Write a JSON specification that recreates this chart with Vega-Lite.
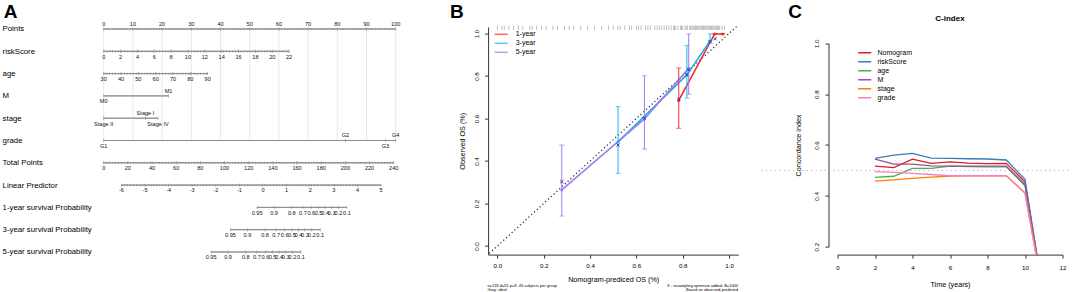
{
 "$schema": "https://vega.github.io/schema/vega-lite/v6.json",
 "padding": {"left": 1.7, "top": 2.6, "right": 0, "bottom": 0},
 "background": "white",
 "bounds": "flush",
 "spacing": 89.4,
 "resolve": {"scale": {"color": "independent"}, "legend": {"color": "independent"}},
 "config": {
  "font": "Liberation Sans",
  "view": {"stroke": null},
  "axis": {"labelFont": "Liberation Sans", "titleFont": "Liberation Sans", "labelFontSize": 6.2, "titleFontSize": 7.2, "titleFontWeight": "normal", "labelColor": "#000", "titleColor": "#000", "domainColor": "#333", "tickColor": "#333", "tickSize": 3.5, "grid": false, "labelFlush": false, "labelOverlap": false},
  "legend": {"labelFont": "Liberation Sans", "labelColor": "#000"}
 },
 "datasets": {
  "rowsA": [
   {"row": "Points", "lo": 0, "hi": 100},
   {"row": "riskScore", "lo": 0, "hi": 63.5},
   {"row": "age", "lo": 0, "hi": 35.6},
   {"row": "M", "lo": 0, "hi": 22.2},
   {"row": "stage", "lo": 0, "hi": 18.6},
   {"row": "grade", "lo": 0, "hi": 100},
   {"row": "Total Points", "lo": 0, "hi": 99.31},
   {"row": "Linear Predictor", "lo": 6.06, "hi": 95.0},
   {"row": "1-year survival Probability", "lo": 52.53, "hi": 83.29},
   {"row": "3-year survival Probability", "lo": 43.39, "hi": 74.15},
   {"row": "5-year survival Probability", "lo": 36.78, "hi": 67.54}
  ],
  "ticksA": [
   {"row": "Points", "label": "0", "pts": 0}, {"row": "Points", "label": "10", "pts": 10}, {"row": "Points", "label": "20", "pts": 20}, {"row": "Points", "label": "30", "pts": 30}, {"row": "Points", "label": "40", "pts": 40}, {"row": "Points", "label": "50", "pts": 50}, {"row": "Points", "label": "60", "pts": 60}, {"row": "Points", "label": "70", "pts": 70}, {"row": "Points", "label": "80", "pts": 80}, {"row": "Points", "label": "90", "pts": 90}, {"row": "Points", "label": "100", "pts": 100},
   {"row": "riskScore", "label": "0", "pts": 0}, {"row": "riskScore", "label": "2", "pts": 5.77}, {"row": "riskScore", "label": "4", "pts": 11.55}, {"row": "riskScore", "label": "6", "pts": 17.32}, {"row": "riskScore", "label": "8", "pts": 23.09}, {"row": "riskScore", "label": "10", "pts": 28.86}, {"row": "riskScore", "label": "12", "pts": 34.64}, {"row": "riskScore", "label": "14", "pts": 40.41}, {"row": "riskScore", "label": "16", "pts": 46.18}, {"row": "riskScore", "label": "18", "pts": 51.95}, {"row": "riskScore", "label": "20", "pts": 57.73}, {"row": "riskScore", "label": "22", "pts": 63.5},
   {"row": "age", "label": "30", "pts": 0}, {"row": "age", "label": "40", "pts": 5.93}, {"row": "age", "label": "50", "pts": 11.87}, {"row": "age", "label": "60", "pts": 17.8}, {"row": "age", "label": "70", "pts": 23.73}, {"row": "age", "label": "80", "pts": 29.67}, {"row": "age", "label": "90", "pts": 35.6},
   {"row": "M", "label": "M0", "pts": 0}, {"row": "M", "label": "M1", "pts": 22.2},
   {"row": "stage", "label": "Stage II", "pts": 0}, {"row": "stage", "label": "Stage I", "pts": 14.3}, {"row": "stage", "label": "Stage IV", "pts": 18.6},
   {"row": "grade", "label": "G1", "pts": 0}, {"row": "grade", "label": "G2", "pts": 82.8}, {"row": "grade", "label": "G3", "pts": 96.5}, {"row": "grade", "label": "G4", "pts": 100},
   {"row": "Total Points", "label": "0", "pts": 0}, {"row": "Total Points", "label": "20", "pts": 8.28}, {"row": "Total Points", "label": "40", "pts": 16.55}, {"row": "Total Points", "label": "60", "pts": 24.83}, {"row": "Total Points", "label": "80", "pts": 33.1}, {"row": "Total Points", "label": "100", "pts": 41.38}, {"row": "Total Points", "label": "120", "pts": 49.66}, {"row": "Total Points", "label": "140", "pts": 57.93}, {"row": "Total Points", "label": "160", "pts": 66.21}, {"row": "Total Points", "label": "180", "pts": 74.48}, {"row": "Total Points", "label": "200", "pts": 82.76}, {"row": "Total Points", "label": "220", "pts": 91.04}, {"row": "Total Points", "label": "240", "pts": 99.31},
   {"row": "Linear Predictor", "label": "-6", "pts": 6.06}, {"row": "Linear Predictor", "label": "-5", "pts": 14.15}, {"row": "Linear Predictor", "label": "-4", "pts": 22.23}, {"row": "Linear Predictor", "label": "-3", "pts": 30.32}, {"row": "Linear Predictor", "label": "-2", "pts": 38.4}, {"row": "Linear Predictor", "label": "-1", "pts": 46.49}, {"row": "Linear Predictor", "label": "0", "pts": 54.57}, {"row": "Linear Predictor", "label": "1", "pts": 62.66}, {"row": "Linear Predictor", "label": "2", "pts": 70.74}, {"row": "Linear Predictor", "label": "3", "pts": 78.83}, {"row": "Linear Predictor", "label": "4", "pts": 86.91}, {"row": "Linear Predictor", "label": "5", "pts": 95.0},
   {"row": "1-year survival Probability", "label": "0.95", "pts": 52.53}, {"row": "1-year survival Probability", "label": "0.9", "pts": 58.35}, {"row": "1-year survival Probability", "label": "0.8", "pts": 64.41}, {"row": "1-year survival Probability", "label": "0.7", "pts": 68.21}, {"row": "1-year survival Probability", "label": "0.6", "pts": 71.11}, {"row": "1-year survival Probability", "label": "0.5", "pts": 73.58}, {"row": "1-year survival Probability", "label": "0.4", "pts": 75.84}, {"row": "1-year survival Probability", "label": "0.3", "pts": 78.05}, {"row": "1-year survival Probability", "label": "0.2", "pts": 80.39}, {"row": "1-year survival Probability", "label": "0.1", "pts": 83.29},
   {"row": "3-year survival Probability", "label": "0.95", "pts": 43.39}, {"row": "3-year survival Probability", "label": "0.9", "pts": 49.21}, {"row": "3-year survival Probability", "label": "0.8", "pts": 55.27}, {"row": "3-year survival Probability", "label": "0.7", "pts": 59.07}, {"row": "3-year survival Probability", "label": "0.6", "pts": 61.97}, {"row": "3-year survival Probability", "label": "0.5", "pts": 64.44}, {"row": "3-year survival Probability", "label": "0.4", "pts": 66.7}, {"row": "3-year survival Probability", "label": "0.3", "pts": 68.91}, {"row": "3-year survival Probability", "label": "0.2", "pts": 71.25}, {"row": "3-year survival Probability", "label": "0.1", "pts": 74.15},
   {"row": "5-year survival Probability", "label": "0.95", "pts": 36.78}, {"row": "5-year survival Probability", "label": "0.9", "pts": 42.6}, {"row": "5-year survival Probability", "label": "0.8", "pts": 48.66}, {"row": "5-year survival Probability", "label": "0.7", "pts": 52.46}, {"row": "5-year survival Probability", "label": "0.6", "pts": 55.36}, {"row": "5-year survival Probability", "label": "0.5", "pts": 57.83}, {"row": "5-year survival Probability", "label": "0.4", "pts": 60.09}, {"row": "5-year survival Probability", "label": "0.3", "pts": 62.3}, {"row": "5-year survival Probability", "label": "0.2", "pts": 64.64}, {"row": "5-year survival Probability", "label": "0.1", "pts": 67.54}
  ],
  "rug": [
   {"x": 0.0}, {"x": 0.02}, {"x": 0.03}, {"x": 0.05}, {"x": 0.07}, {"x": 0.09}, {"x": 0.11}, {"x": 0.14}, {"x": 0.15}, {"x": 0.17}, {"x": 0.19}, {"x": 0.21}, {"x": 0.24}, {"x": 0.26}, {"x": 0.29}, {"x": 0.31}, {"x": 0.33}, {"x": 0.36}, {"x": 0.39}, {"x": 0.42}, {"x": 0.45}, {"x": 0.48}, {"x": 0.5}, {"x": 0.52}, {"x": 0.53}, {"x": 0.55}, {"x": 0.57}, {"x": 0.58}, {"x": 0.6}, {"x": 0.61}, {"x": 0.62}, {"x": 0.64}, {"x": 0.65}, {"x": 0.66}, {"x": 0.68}, {"x": 0.69}, {"x": 0.7}, {"x": 0.71}, {"x": 0.72}, {"x": 0.73}, {"x": 0.74}, {"x": 0.75}, {"x": 0.76}, {"x": 0.765}, {"x": 0.77}, {"x": 0.78}, {"x": 0.79}, {"x": 0.795}, {"x": 0.8}, {"x": 0.81}, {"x": 0.815}, {"x": 0.82}, {"x": 0.83}, {"x": 0.835}, {"x": 0.84}, {"x": 0.845}, {"x": 0.85}, {"x": 0.855}, {"x": 0.86}, {"x": 0.865}, {"x": 0.87}, {"x": 0.875}, {"x": 0.88}, {"x": 0.885}, {"x": 0.89}, {"x": 0.895}, {"x": 0.9}, {"x": 0.905}, {"x": 0.91}, {"x": 0.915}, {"x": 0.92}, {"x": 0.925}, {"x": 0.93}, {"x": 0.935}, {"x": 0.94}, {"x": 0.945}, {"x": 0.95}, {"x": 0.955}, {"x": 0.96}, {"x": 0.97}, {"x": 0.98}
  ],
  "diag": [{"x": -0.035, "y": -0.035}, {"x": 1.037, "y": 1.037}],
  "calib": [
   {"series": "1-year", "x": 0.783, "y": 0.685, "lo": 0.554, "hi": 0.838},
   {"series": "1-year", "x": 0.938, "y": 0.998, "lo": 0.998, "hi": 0.998},
   {"series": "1-year", "x": 0.973, "y": 0.998, "lo": 0.998, "hi": 0.998},
   {"series": "3-year", "x": 0.521, "y": 0.49, "lo": 0.342, "hi": 0.656},
   {"series": "3-year", "x": 0.818, "y": 0.805, "lo": 0.696, "hi": 0.944},
   {"series": "3-year", "x": 0.918, "y": 0.965, "lo": 0.955, "hi": 0.998},
   {"series": "5-year", "x": 0.278, "y": 0.264, "lo": 0.141, "hi": 0.475},
   {"series": "5-year", "x": 0.635, "y": 0.598, "lo": 0.456, "hi": 0.801},
   {"series": "5-year", "x": 0.826, "y": 0.836, "lo": 0.714, "hi": 0.998}
  ],
  "bias": [
   {"x": 0.278, "y": 0.303}, {"x": 0.521, "y": 0.475}, {"x": 0.635, "y": 0.602}, {"x": 0.783, "y": 0.69}, {"x": 0.818, "y": 0.806}, {"x": 0.826, "y": 0.83}, {"x": 0.918, "y": 0.962}, {"x": 0.94, "y": 0.975}
  ],
  "cindex": [
   {"series": "Nomogram", "t": 2, "c": 0.517}, {"series": "Nomogram", "t": 3, "c": 0.511}, {"series": "Nomogram", "t": 4, "c": 0.544}, {"series": "Nomogram", "t": 5, "c": 0.528}, {"series": "Nomogram", "t": 6, "c": 0.534}, {"series": "Nomogram", "t": 7, "c": 0.529}, {"series": "Nomogram", "t": 8, "c": 0.527}, {"series": "Nomogram", "t": 9, "c": 0.528}, {"series": "Nomogram", "t": 10, "c": 0.455}, {"series": "Nomogram", "t": 11, "c": 0},
   {"series": "riskScore", "t": 2, "c": 0.547}, {"series": "riskScore", "t": 3, "c": 0.56}, {"series": "riskScore", "t": 4, "c": 0.567}, {"series": "riskScore", "t": 5, "c": 0.548}, {"series": "riskScore", "t": 6, "c": 0.547}, {"series": "riskScore", "t": 7, "c": 0.546}, {"series": "riskScore", "t": 8, "c": 0.545}, {"series": "riskScore", "t": 9, "c": 0.541}, {"series": "riskScore", "t": 10, "c": 0.465}, {"series": "riskScore", "t": 11, "c": 0},
   {"series": "age", "t": 2, "c": 0.473}, {"series": "age", "t": 3, "c": 0.477}, {"series": "age", "t": 4, "c": 0.508}, {"series": "age", "t": 5, "c": 0.508}, {"series": "age", "t": 6, "c": 0.517}, {"series": "age", "t": 7, "c": 0.515}, {"series": "age", "t": 8, "c": 0.514}, {"series": "age", "t": 9, "c": 0.514}, {"series": "age", "t": 10, "c": 0.44}, {"series": "age", "t": 11, "c": 0},
   {"series": "M", "t": 2, "c": 0.544}, {"series": "M", "t": 3, "c": 0.525}, {"series": "M", "t": 4, "c": 0.525}, {"series": "M", "t": 5, "c": 0.518}, {"series": "M", "t": 6, "c": 0.517}, {"series": "M", "t": 7, "c": 0.517}, {"series": "M", "t": 8, "c": 0.517}, {"series": "M", "t": 9, "c": 0.517}, {"series": "M", "t": 10, "c": 0.445}, {"series": "M", "t": 11, "c": 0},
   {"series": "stage", "t": 2, "c": 0.458}, {"series": "stage", "t": 3, "c": 0.463}, {"series": "stage", "t": 4, "c": 0.469}, {"series": "stage", "t": 5, "c": 0.474}, {"series": "stage", "t": 6, "c": 0.478}, {"series": "stage", "t": 7, "c": 0.479}, {"series": "stage", "t": 8, "c": 0.479}, {"series": "stage", "t": 9, "c": 0.479}, {"series": "stage", "t": 10, "c": 0.412}, {"series": "stage", "t": 11, "c": 0},
   {"series": "grade", "t": 2, "c": 0.495}, {"series": "grade", "t": 3, "c": 0.492}, {"series": "grade", "t": 4, "c": 0.488}, {"series": "grade", "t": 5, "c": 0.484}, {"series": "grade", "t": 6, "c": 0.479}, {"series": "grade", "t": 7, "c": 0.479}, {"series": "grade", "t": 8, "c": 0.479}, {"series": "grade", "t": 9, "c": 0.479}, {"series": "grade", "t": 10, "c": 0.41}, {"series": "grade", "t": 11, "c": 0}
  ]
 },
 "hconcat": [
  {
   "width": 294.7, "height": 230,
   "layer": [
    {"data": {"name": "rowsA"},
     "mark": {"type": "rule", "color": "#8c8c8c", "strokeWidth": 0.9},
     "encoding": {
      "x": {"field": "lo", "type": "quantitative", "scale": {"domain": [0, 100], "range": [0, 292], "nice": false, "zero": false}, "axis": null},
      "x2": {"field": "hi"},
      "y": {"field": "row", "type": "ordinal", "scale": {"type": "point", "padding": 0, "domain": ["Points", "riskScore", "age", "M", "stage", "grade", "Total Points", "Linear Predictor", "1-year survival Probability", "3-year survival Probability", "5-year survival Probability"], "range": [4.4, 227.4]},
       "axis": {"title": null, "domain": false, "ticks": false, "tickSize": 0, "labelAlign": "left", "labelBaseline": "middle", "labelPadding": 101.6, "labelFontSize": 7.8, "labelColor": "#000", "labelLimit": 0}}}},
    {"data": {"name": "ticksA"}, "transform": [{"filter": "datum.row === 'Points'"}],
     "mark": {"type": "rule", "color": "#e2e2e2", "strokeWidth": 0.8},
     "encoding": {
      "x": {"field": "pts", "type": "quantitative", "scale": {"domain": [0, 100], "range": [0, 292], "nice": false, "zero": false}, "axis": null},
      "y": {"datum": "Points", "type": "ordinal", "scale": {"type": "point", "padding": 0, "domain": ["Points", "riskScore", "age", "M", "stage", "grade", "Total Points", "Linear Predictor", "1-year survival Probability", "3-year survival Probability", "5-year survival Probability"], "range": [4.4, 227.4]},
       "axis": {"title": null, "domain": false, "ticks": false, "tickSize": 0, "labelAlign": "left", "labelBaseline": "middle", "labelPadding": 101.6, "labelFontSize": 7.8, "labelColor": "#000", "labelLimit": 0}},
      "y2": {"datum": "grade"}}},
    {"data": {"name": "rowsA"},
     "mark": {"type": "rule", "color": "#8c8c8c", "strokeWidth": 0.9},
     "encoding": {
      "x": {"field": "lo", "type": "quantitative", "scale": {"domain": [0, 100], "range": [0, 292], "nice": false, "zero": false}, "axis": null},
      "x2": {"field": "hi"},
      "y": {"field": "row", "type": "ordinal", "scale": {"type": "point", "padding": 0, "domain": ["Points", "riskScore", "age", "M", "stage", "grade", "Total Points", "Linear Predictor", "1-year survival Probability", "3-year survival Probability", "5-year survival Probability"], "range": [4.4, 227.4]},
       "axis": {"title": null, "domain": false, "ticks": false, "tickSize": 0, "labelAlign": "left", "labelBaseline": "middle", "labelPadding": 101.6, "labelFontSize": 7.8, "labelColor": "#000", "labelLimit": 0}}}},
    {"data": {"name": "rowsA"}, "transform": [{"filter": {"field": "row", "oneOf": ["Points", "riskScore", "age", "Total Points", "Linear Predictor"]}}],
     "mark": {"type": "rule", "color": "#8c8c8c", "strokeWidth": 2.2, "strokeDash": [0.6, 2.32]},
     "encoding": {
      "x": {"field": "lo", "type": "quantitative", "scale": {"domain": [0, 100], "range": [0, 292], "nice": false, "zero": false}, "axis": null},
      "x2": {"field": "hi"},
      "y": {"field": "row", "type": "ordinal", "scale": {"type": "point", "padding": 0, "domain": ["Points", "riskScore", "age", "M", "stage", "grade", "Total Points", "Linear Predictor", "1-year survival Probability", "3-year survival Probability", "5-year survival Probability"], "range": [4.4, 227.4]},
       "axis": {"title": null, "domain": false, "ticks": false, "tickSize": 0, "labelAlign": "left", "labelBaseline": "middle", "labelPadding": 101.6, "labelFontSize": 7.8, "labelColor": "#000", "labelLimit": 0}}}},
    {"data": {"name": "ticksA"},
     "mark": {"type": "tick", "orient": "vertical", "color": "#8c8c8c", "size": 3.4, "thickness": 0.8},
     "encoding": {
      "x": {"field": "pts", "type": "quantitative", "scale": {"domain": [0, 100], "range": [0, 292], "nice": false, "zero": false}, "axis": null},
      "y": {"field": "row", "type": "ordinal", "scale": {"type": "point", "padding": 0, "domain": ["Points", "riskScore", "age", "M", "stage", "grade", "Total Points", "Linear Predictor", "1-year survival Probability", "3-year survival Probability", "5-year survival Probability"], "range": [4.4, 227.4]},
       "axis": {"title": null, "domain": false, "ticks": false, "tickSize": 0, "labelAlign": "left", "labelBaseline": "middle", "labelPadding": 101.6, "labelFontSize": 7.8, "labelColor": "#000", "labelLimit": 0}}}},
    {"data": {"name": "ticksA"}, "transform": [{"filter": "datum.row === 'Points' || indexof(['M1','Stage I','G2','G4'], datum.label) >= 0"}],
     "mark": {"type": "text", "fontSize": 5.6, "dy": -5.2, "baseline": "middle", "color": "#111"},
     "encoding": {
      "x": {"field": "pts", "type": "quantitative", "scale": {"domain": [0, 100], "range": [0, 292], "nice": false, "zero": false}, "axis": null},
      "y": {"field": "row", "type": "ordinal", "scale": {"type": "point", "padding": 0, "domain": ["Points", "riskScore", "age", "M", "stage", "grade", "Total Points", "Linear Predictor", "1-year survival Probability", "3-year survival Probability", "5-year survival Probability"], "range": [4.4, 227.4]},
       "axis": {"title": null, "domain": false, "ticks": false, "tickSize": 0, "labelAlign": "left", "labelBaseline": "middle", "labelPadding": 101.6, "labelFontSize": 7.8, "labelColor": "#000", "labelLimit": 0}},
      "text": {"field": "label"}}},
    {"data": {"name": "ticksA"}, "transform": [{"filter": "!(datum.row === 'Points' || indexof(['M1','Stage I','G2','G4'], datum.label) >= 0)"}],
     "mark": {"type": "text", "fontSize": 5.6, "dy": 5.4, "baseline": "middle", "color": "#111"},
     "encoding": {
      "x": {"field": "pts", "type": "quantitative", "scale": {"domain": [0, 100], "range": [0, 292], "nice": false, "zero": false}, "axis": null},
      "y": {"field": "row", "type": "ordinal", "scale": {"type": "point", "padding": 0, "domain": ["Points", "riskScore", "age", "M", "stage", "grade", "Total Points", "Linear Predictor", "1-year survival Probability", "3-year survival Probability", "5-year survival Probability"], "range": [4.4, 227.4]},
       "axis": {"title": null, "domain": false, "ticks": false, "tickSize": 0, "labelAlign": "left", "labelBaseline": "middle", "labelPadding": 101.6, "labelFontSize": 7.8, "labelColor": "#000", "labelLimit": 0}},
      "text": {"field": "label"}}},
    {"data": {"values": [{"letter": "A"}]},
     "mark": {"type": "text", "fontSize": 19, "fontWeight": "bold", "align": "left", "baseline": "alphabetic", "dy": -11.4, "color": "#000"},
     "encoding": {
      "x": {"datum": -34.25, "type": "quantitative", "scale": {"domain": [0, 100], "range": [0, 292], "nice": false, "zero": false}, "axis": null},
      "y": {"datum": "Points", "type": "ordinal", "scale": {"type": "point", "padding": 0, "domain": ["Points", "riskScore", "age", "M", "stage", "grade", "Total Points", "Linear Predictor", "1-year survival Probability", "3-year survival Probability", "5-year survival Probability"], "range": [4.4, 227.4]},
       "axis": {"title": null, "domain": false, "ticks": false, "tickSize": 0, "labelAlign": "left", "labelBaseline": "middle", "labelPadding": 101.6, "labelFontSize": 7.8, "labelColor": "#000", "labelLimit": 0}},
      "text": {"field": "letter"}}}
   ]
  },
  {
   "width": 250.2, "height": 230,
   "layer": [
    {"data": {"name": "diag"},
     "mark": {"type": "line", "color": "#222", "strokeWidth": 1.2, "strokeDash": [1.2, 2.6]},
     "encoding": {
      "x": {"field": "x", "type": "quantitative", "scale": {"domain": [-0.04, 1.04], "range": [0, 250.2], "nice": false, "zero": false}, "axis": {"values": [0, 0.2, 0.4, 0.6, 0.8, 1], "format": ".1f", "title": "Nomogram-prediced OS (%)", "labelPadding": 4.5, "titleY": 24.7, "titleBaseline": "middle"}},
      "y": {"field": "y", "type": "quantitative", "scale": {"domain": [-0.0405, 1.0306], "range": [230, 2.4], "nice": false, "zero": false}, "axis": {"values": [0, 0.2, 0.4, 0.6, 0.8, 1], "format": ".1f", "title": "Observed OS (%)", "labelAngle": -90, "labelAlign": "center", "labelBaseline": "bottom", "labelPadding": 5.2, "titleX": -25.7, "titleAngle": -90, "titleBaseline": "middle"}}}},
    {"data": {"name": "rug"},
     "mark": {"type": "tick", "orient": "vertical", "size": 4.7, "thickness": 0.8, "color": "#555", "opacity": 0.45},
     "encoding": {
      "x": {"field": "x", "type": "quantitative", "scale": {"domain": [-0.04, 1.04], "range": [0, 250.2], "nice": false, "zero": false}, "axis": {"values": [0, 0.2, 0.4, 0.6, 0.8, 1], "format": ".1f", "title": "Nomogram-prediced OS (%)", "labelPadding": 4.5, "titleY": 24.7, "titleBaseline": "middle"}},
      "y": {"datum": 1.027, "type": "quantitative", "scale": {"domain": [-0.0405, 1.0306], "range": [230, 2.4], "nice": false, "zero": false}, "axis": {"values": [0, 0.2, 0.4, 0.6, 0.8, 1], "format": ".1f", "title": "Observed OS (%)", "labelAngle": -90, "labelAlign": "center", "labelBaseline": "bottom", "labelPadding": 5.2, "titleX": -25.7, "titleAngle": -90, "titleBaseline": "middle"}}}},
    {"data": {"name": "calib"},
     "mark": {"type": "line", "strokeWidth": 1.6},
     "encoding": {
      "x": {"field": "x", "type": "quantitative", "scale": {"domain": [-0.04, 1.04], "range": [0, 250.2], "nice": false, "zero": false}, "axis": {"values": [0, 0.2, 0.4, 0.6, 0.8, 1], "format": ".1f", "title": "Nomogram-prediced OS (%)", "labelPadding": 4.5, "titleY": 24.7, "titleBaseline": "middle"}},
      "y": {"field": "y", "type": "quantitative", "scale": {"domain": [-0.0405, 1.0306], "range": [230, 2.4], "nice": false, "zero": false}, "axis": {"values": [0, 0.2, 0.4, 0.6, 0.8, 1], "format": ".1f", "title": "Observed OS (%)", "labelAngle": -90, "labelAlign": "center", "labelBaseline": "bottom", "labelPadding": 5.2, "titleX": -25.7, "titleAngle": -90, "titleBaseline": "middle"}},
      "color": {"field": "series", "type": "nominal", "scale": {"domain": ["1-year", "3-year", "5-year"], "range": ["#F22C2C", "#21B1EE", "#A07CF0"]},
       "legend": {"orient": "none", "legendX": 5.6, "legendY": 5.2, "title": null, "symbolType": "stroke", "symbolSize": 169, "symbolStrokeWidth": 1.6, "labelFontSize": 7, "labelOffset": 7, "clipHeight": 9, "rowPadding": 0, "padding": 0}}}},
    {"data": {"name": "calib"},
     "mark": {"type": "rule", "strokeWidth": 1},
     "encoding": {
      "x": {"field": "x", "type": "quantitative", "scale": {"domain": [-0.04, 1.04], "range": [0, 250.2], "nice": false, "zero": false}, "axis": {"values": [0, 0.2, 0.4, 0.6, 0.8, 1], "format": ".1f", "title": "Nomogram-prediced OS (%)", "labelPadding": 4.5, "titleY": 24.7, "titleBaseline": "middle"}},
      "y": {"field": "lo", "type": "quantitative", "scale": {"domain": [-0.0405, 1.0306], "range": [230, 2.4], "nice": false, "zero": false}, "axis": {"values": [0, 0.2, 0.4, 0.6, 0.8, 1], "format": ".1f", "title": "Observed OS (%)", "labelAngle": -90, "labelAlign": "center", "labelBaseline": "bottom", "labelPadding": 5.2, "titleX": -25.7, "titleAngle": -90, "titleBaseline": "middle"}},
      "y2": {"field": "hi"},
      "color": {"field": "series", "type": "nominal", "scale": {"domain": ["1-year", "3-year", "5-year"], "range": ["#F22C2C", "#21B1EE", "#A07CF0"]},
       "legend": {"orient": "none", "legendX": 5.6, "legendY": 5.2, "title": null, "symbolType": "stroke", "symbolSize": 169, "symbolStrokeWidth": 1.6, "labelFontSize": 7, "labelOffset": 7, "clipHeight": 9, "rowPadding": 0, "padding": 0}}}},
    {"data": {"name": "calib"},
     "mark": {"type": "tick", "orient": "horizontal", "size": 5, "thickness": 1},
     "encoding": {
      "x": {"field": "x", "type": "quantitative", "scale": {"domain": [-0.04, 1.04], "range": [0, 250.2], "nice": false, "zero": false}, "axis": {"values": [0, 0.2, 0.4, 0.6, 0.8, 1], "format": ".1f", "title": "Nomogram-prediced OS (%)", "labelPadding": 4.5, "titleY": 24.7, "titleBaseline": "middle"}},
      "y": {"field": "lo", "type": "quantitative", "scale": {"domain": [-0.0405, 1.0306], "range": [230, 2.4], "nice": false, "zero": false}, "axis": {"values": [0, 0.2, 0.4, 0.6, 0.8, 1], "format": ".1f", "title": "Observed OS (%)", "labelAngle": -90, "labelAlign": "center", "labelBaseline": "bottom", "labelPadding": 5.2, "titleX": -25.7, "titleAngle": -90, "titleBaseline": "middle"}},
      "color": {"field": "series", "type": "nominal", "scale": {"domain": ["1-year", "3-year", "5-year"], "range": ["#F22C2C", "#21B1EE", "#A07CF0"]},
       "legend": {"orient": "none", "legendX": 5.6, "legendY": 5.2, "title": null, "symbolType": "stroke", "symbolSize": 169, "symbolStrokeWidth": 1.6, "labelFontSize": 7, "labelOffset": 7, "clipHeight": 9, "rowPadding": 0, "padding": 0}}}},
    {"data": {"name": "calib"},
     "mark": {"type": "tick", "orient": "horizontal", "size": 5, "thickness": 1},
     "encoding": {
      "x": {"field": "x", "type": "quantitative", "scale": {"domain": [-0.04, 1.04], "range": [0, 250.2], "nice": false, "zero": false}, "axis": {"values": [0, 0.2, 0.4, 0.6, 0.8, 1], "format": ".1f", "title": "Nomogram-prediced OS (%)", "labelPadding": 4.5, "titleY": 24.7, "titleBaseline": "middle"}},
      "y": {"field": "hi", "type": "quantitative", "scale": {"domain": [-0.0405, 1.0306], "range": [230, 2.4], "nice": false, "zero": false}, "axis": {"values": [0, 0.2, 0.4, 0.6, 0.8, 1], "format": ".1f", "title": "Observed OS (%)", "labelAngle": -90, "labelAlign": "center", "labelBaseline": "bottom", "labelPadding": 5.2, "titleX": -25.7, "titleAngle": -90, "titleBaseline": "middle"}},
      "color": {"field": "series", "type": "nominal", "scale": {"domain": ["1-year", "3-year", "5-year"], "range": ["#F22C2C", "#21B1EE", "#A07CF0"]},
       "legend": {"orient": "none", "legendX": 5.6, "legendY": 5.2, "title": null, "symbolType": "stroke", "symbolSize": 169, "symbolStrokeWidth": 1.6, "labelFontSize": 7, "labelOffset": 7, "clipHeight": 9, "rowPadding": 0, "padding": 0}}}},
    {"data": {"name": "calib"},
     "mark": {"type": "point", "filled": true, "size": 9, "opacity": 1},
     "encoding": {
      "x": {"field": "x", "type": "quantitative", "scale": {"domain": [-0.04, 1.04], "range": [0, 250.2], "nice": false, "zero": false}, "axis": {"values": [0, 0.2, 0.4, 0.6, 0.8, 1], "format": ".1f", "title": "Nomogram-prediced OS (%)", "labelPadding": 4.5, "titleY": 24.7, "titleBaseline": "middle"}},
      "y": {"field": "y", "type": "quantitative", "scale": {"domain": [-0.0405, 1.0306], "range": [230, 2.4], "nice": false, "zero": false}, "axis": {"values": [0, 0.2, 0.4, 0.6, 0.8, 1], "format": ".1f", "title": "Observed OS (%)", "labelAngle": -90, "labelAlign": "center", "labelBaseline": "bottom", "labelPadding": 5.2, "titleX": -25.7, "titleAngle": -90, "titleBaseline": "middle"}},
      "color": {"field": "series", "type": "nominal", "scale": {"domain": ["1-year", "3-year", "5-year"], "range": ["#F22C2C", "#21B1EE", "#A07CF0"]},
       "legend": {"orient": "none", "legendX": 5.6, "legendY": 5.2, "title": null, "symbolType": "stroke", "symbolSize": 169, "symbolStrokeWidth": 1.6, "labelFontSize": 7, "labelOffset": 7, "clipHeight": 9, "rowPadding": 0, "padding": 0}}}},
    {"data": {"name": "bias"},
     "mark": {"type": "point", "shape": "M-1,-1L1,1M1,-1L-1,1", "filled": false, "size": 10, "strokeWidth": 0.9, "color": "#2A2AC8", "opacity": 1},
     "encoding": {
      "x": {"field": "x", "type": "quantitative", "scale": {"domain": [-0.04, 1.04], "range": [0, 250.2], "nice": false, "zero": false}, "axis": {"values": [0, 0.2, 0.4, 0.6, 0.8, 1], "format": ".1f", "title": "Nomogram-prediced OS (%)", "labelPadding": 4.5, "titleY": 24.7, "titleBaseline": "middle"}},
      "y": {"field": "y", "type": "quantitative", "scale": {"domain": [-0.0405, 1.0306], "range": [230, 2.4], "nice": false, "zero": false}, "axis": {"values": [0, 0.2, 0.4, 0.6, 0.8, 1], "format": ".1f", "title": "Observed OS (%)", "labelAngle": -90, "labelAlign": "center", "labelBaseline": "bottom", "labelPadding": 5.2, "titleX": -25.7, "titleAngle": -90, "titleBaseline": "middle"}}}},
    {"data": {"values": [{"note": "n=133 d=51 p=9, 45 subjects per group\nGray: ideal"}]},
     "mark": {"type": "text", "align": "left", "baseline": "middle", "fontSize": 4, "lineBreak": "\n", "lineHeight": 4.5, "color": "#000"},
     "encoding": {
      "x": {"datum": -0.043, "type": "quantitative", "scale": {"domain": [-0.04, 1.04], "range": [0, 250.2], "nice": false, "zero": false}, "axis": {"values": [0, 0.2, 0.4, 0.6, 0.8, 1], "format": ".1f", "title": "Nomogram-prediced OS (%)", "labelPadding": 4.5, "titleY": 24.7, "titleBaseline": "middle"}},
      "y": {"datum": -0.187, "type": "quantitative", "scale": {"domain": [-0.0405, 1.0306], "range": [230, 2.4], "nice": false, "zero": false}, "axis": {"values": [0, 0.2, 0.4, 0.6, 0.8, 1], "format": ".1f", "title": "Observed OS (%)", "labelAngle": -90, "labelAlign": "center", "labelBaseline": "bottom", "labelPadding": 5.2, "titleX": -25.7, "titleAngle": -90, "titleBaseline": "middle"}},
      "text": {"field": "note"}}},
    {"data": {"values": [{"note": "X - resampling optimism added, B=1000\nBased on observed-predicted"}]},
     "mark": {"type": "text", "align": "right", "baseline": "middle", "fontSize": 4, "lineBreak": "\n", "lineHeight": 4.5, "color": "#000"},
     "encoding": {
      "x": {"datum": 1.039, "type": "quantitative", "scale": {"domain": [-0.04, 1.04], "range": [0, 250.2], "nice": false, "zero": false}, "axis": {"values": [0, 0.2, 0.4, 0.6, 0.8, 1], "format": ".1f", "title": "Nomogram-prediced OS (%)", "labelPadding": 4.5, "titleY": 24.7, "titleBaseline": "middle"}},
      "y": {"datum": -0.187, "type": "quantitative", "scale": {"domain": [-0.0405, 1.0306], "range": [230, 2.4], "nice": false, "zero": false}, "axis": {"values": [0, 0.2, 0.4, 0.6, 0.8, 1], "format": ".1f", "title": "Observed OS (%)", "labelAngle": -90, "labelAlign": "center", "labelBaseline": "bottom", "labelPadding": 5.2, "titleX": -25.7, "titleAngle": -90, "titleBaseline": "middle"}},
      "text": {"field": "note"}}},
    {"data": {"values": [{"letter": "B"}]},
     "mark": {"type": "text", "fontSize": 19, "fontWeight": "bold", "align": "left", "baseline": "alphabetic", "color": "#000"},
     "encoding": {
      "x": {"datum": -0.204, "type": "quantitative", "scale": {"domain": [-0.04, 1.04], "range": [0, 250.2], "nice": false, "zero": false}, "axis": {"values": [0, 0.2, 0.4, 0.6, 0.8, 1], "format": ".1f", "title": "Nomogram-prediced OS (%)", "labelPadding": 4.5, "titleY": 24.7, "titleBaseline": "middle"}},
      "y": {"datum": 1.0748, "type": "quantitative", "scale": {"domain": [-0.0405, 1.0306], "range": [230, 2.4], "nice": false, "zero": false}, "axis": {"values": [0, 0.2, 0.4, 0.6, 0.8, 1], "format": ".1f", "title": "Observed OS (%)", "labelAngle": -90, "labelAlign": "center", "labelBaseline": "bottom", "labelPadding": 5.2, "titleX": -25.7, "titleAngle": -90, "titleBaseline": "middle"}},
      "text": {"field": "letter"}}}
   ]
  },
  {
   "width": 243, "height": 230,
   "layer": [
    {"data": {"values": [{"c": 0.5}]},
     "mark": {"type": "rule", "color": "#b0b0b0", "strokeWidth": 1, "strokeDash": [1.2, 3.3]},
     "encoding": {
      "x": {"datum": -4.05, "type": "quantitative", "scale": {"domain": [0, 12], "range": [9, 234], "nice": false, "zero": false}, "axis": {"values": [0, 2, 4, 6, 8, 10, 12], "title": "Time (years)", "labelPadding": 6.9, "titleY": 29.7, "titleBaseline": "middle"}},
      "x2": {"datum": 12.59},
      "y": {"field": "c", "type": "quantitative", "scale": {"domain": [0.2, 1.0], "range": [222.1, 18.7], "nice": false, "zero": false}, "axis": {"values": [0.2, 0.4, 0.6, 0.8, 1.0], "format": ".1f", "title": "Concordance index", "labelAngle": -90, "labelAlign": "center", "labelBaseline": "bottom", "labelPadding": 5.3, "titleX": -30.3, "titleAngle": -90, "titleBaseline": "middle"}}}},
    {"data": {"name": "cindex"},
     "mark": {"type": "line", "strokeWidth": 1.3, "clip": true},
     "encoding": {
      "x": {"field": "t", "type": "quantitative", "scale": {"domain": [0, 12], "range": [9, 234], "nice": false, "zero": false}, "axis": {"values": [0, 2, 4, 6, 8, 10, 12], "title": "Time (years)", "labelPadding": 6.9, "titleY": 29.7, "titleBaseline": "middle"}},
      "y": {"field": "c", "type": "quantitative", "scale": {"domain": [0.2, 1.0], "range": [222.1, 18.7], "nice": false, "zero": false}, "axis": {"values": [0.2, 0.4, 0.6, 0.8, 1.0], "format": ".1f", "title": "Concordance index", "labelAngle": -90, "labelAlign": "center", "labelBaseline": "bottom", "labelPadding": 5.3, "titleX": -30.3, "titleAngle": -90, "titleBaseline": "middle"}},
      "color": {"field": "series", "type": "nominal", "scale": {"domain": ["Nomogram", "riskScore", "age", "M", "stage", "grade"], "range": ["#E41A1C", "#377EB8", "#4DAF4A", "#984EA3", "#FF7F00", "#F781BF"]},
       "legend": {"orient": "none", "legendX": 28.7, "legendY": 23.85, "title": null, "symbolType": "stroke", "symbolSize": 169, "symbolStrokeWidth": 1.5, "labelFontSize": 7, "labelOffset": 5.3, "clipHeight": 8.5, "rowPadding": 0, "padding": 0}}}},
    {"data": {"values": [{"txt": "C-index"}]},
     "mark": {"type": "text", "fontSize": 8, "fontWeight": "bold", "baseline": "middle", "color": "#000"},
     "encoding": {
      "x": {"datum": 6, "type": "quantitative", "scale": {"domain": [0, 12], "range": [9, 234], "nice": false, "zero": false}, "axis": {"values": [0, 2, 4, 6, 8, 10, 12], "title": "Time (years)", "labelPadding": 6.9, "titleY": 29.7, "titleBaseline": "middle"}},
      "y": {"datum": 1.0956, "type": "quantitative", "scale": {"domain": [0.2, 1.0], "range": [222.1, 18.7], "nice": false, "zero": false}, "axis": {"values": [0.2, 0.4, 0.6, 0.8, 1.0], "format": ".1f", "title": "Concordance index", "labelAngle": -90, "labelAlign": "center", "labelBaseline": "bottom", "labelPadding": 5.3, "titleX": -30.3, "titleAngle": -90, "titleBaseline": "middle"}},
      "text": {"field": "txt"}}},
    {"data": {"values": [{"letter": "C"}]},
     "mark": {"type": "text", "fontSize": 19, "fontWeight": "bold", "align": "left", "baseline": "alphabetic", "color": "#000"},
     "encoding": {
      "x": {"datum": -2.63, "type": "quantitative", "scale": {"domain": [0, 12], "range": [9, 234], "nice": false, "zero": false}, "axis": {"values": [0, 2, 4, 6, 8, 10, 12], "title": "Time (years)", "labelPadding": 6.9, "titleY": 29.7, "titleBaseline": "middle"}},
      "y": {"datum": 1.1009, "type": "quantitative", "scale": {"domain": [0.2, 1.0], "range": [222.1, 18.7], "nice": false, "zero": false}, "axis": {"values": [0.2, 0.4, 0.6, 0.8, 1.0], "format": ".1f", "title": "Concordance index", "labelAngle": -90, "labelAlign": "center", "labelBaseline": "bottom", "labelPadding": 5.3, "titleX": -30.3, "titleAngle": -90, "titleBaseline": "middle"}},
      "text": {"field": "letter"}}}
   ]
  }
 ]
}
